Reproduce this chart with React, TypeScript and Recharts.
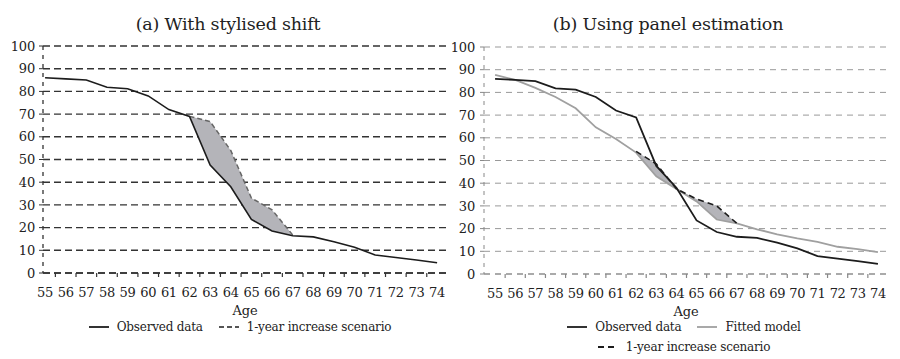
import { ComposedChart, Line, Area, XAxis, YAxis, CartesianGrid } from 'recharts';

// share of people still working, by age
const ages = [55, 56, 57, 58, 59, 60, 61, 62, 63, 64, 65, 66, 67, 68, 69, 70, 71, 72, 73, 74];
const observed = [86, 85.5, 85, 81.8, 81.2, 78, 72, 69, 47.6, 38, 23.6, 18.5, 16.4, 15.9, 13.8, 11.3, 7.9, 6.8, 5.7, 4.5];
const shiftScenario = [null, null, null, null, null, null, null, 69, 66.7, 54, 33, 27.8, 16.8, null, null, null, null, null, null, null];
const fittedModel = [87.7, 85.5, 82, 78, 73, 64.6, 59.5, 53.5, 43, 37.5, 32, 24, 22.3, 19.7, 17.5, 15.7, 14.2, 12, 11, 9.6];
const panelScenario = [null, null, null, null, null, null, null, 54, 48.5, 37.5, 33, 30, 22.3, null, null, null, null, null, null, null];
const yTicks = [0, 10, 20, 30, 40, 50, 60, 70, 80, 90, 100];

const band = (a: (number | null)[], b: (number | null)[], i: number) =>
  a[i] != null && b[i] != null ? [Math.min(a[i]!, b[i]!), Math.max(a[i]!, b[i]!)] : null;

const data = ages.map((age, i) => ({
  age,
  observed: observed[i],
  shiftScenario: shiftScenario[i],
  fittedModel: fittedModel[i],
  panelScenario: panelScenario[i],
  bandA: band(observed, shiftScenario, i),
  bandB: band(fittedModel, panelScenario, i),
}));

// labels on whole ages, small tick marks on the half years between them
const ageTicks = ages.flatMap((a) => (a < 74 ? [a, a + 0.5] : [a]));

const FONT = 'DejaVu Serif';
const INK = '#222';

const AgeTick = ({ x, y, payload, mark }: any) => {
  const v = payload.value;
  if (!Number.isInteger(v)) {
    return <line x1={x} x2={x} y1={y} y2={y + 4} stroke={mark} strokeWidth={1.2} />;
  }
  return (
    <text x={x} y={y + 19} textAnchor="middle" dominantBaseline="central" style={{ fontFamily: FONT, letterSpacing: -0.3 }} fontSize={13} fill={INK}>
      {v}
    </text>
  );
};

const Key = ({ color, dash, width = 1.8, label }: { color: string; dash?: string; width?: number; label: string }) => (
  <span style={{ display: 'inline-flex', alignItems: 'center', margin: '0 8px' }}>
    <svg width={20} height={6} style={{ marginRight: 8 }}>
      <line x1={0} x2={20} y1={3} y2={3} stroke={color} strokeWidth={width} strokeDasharray={dash} />
    </svg>
    <span>{label}</span>
  </span>
);

const title = (left: number, text: string) => (
  <div style={{ position: 'absolute', left, top: 11, width: 450, textAlign: 'center', fontFamily: FONT, fontSize: 17.5, color: INK, lineHeight: '26px' }}>
    {text}
  </div>
);

const tickText = { style: { fontFamily: FONT }, fontSize: 13, fill: INK };

export default function App() {
  return (
    <div style={{ position: 'fixed', left: 0, top: 0, width: 900, height: 359, background: '#fff', fontFamily: FONT, fontSize: 12, letterSpacing: -0.2, color: INK }}>
      {title(3, '(a) With stylised shift')}
      {title(443, '(b) Using panel estimation')}

      <div style={{ position: 'absolute', left: 0, top: 0 }}>
        <ComposedChart width={450} height={320} data={data} margin={{ top: 46, right: 3, bottom: 3, left: 5 }}>
          <CartesianGrid yAxisId="l" vertical={false} stroke="#333" strokeWidth={1.4} strokeDasharray="7 4" />
          <XAxis
            dataKey="age"
            type="number"
            domain={[54.9, 74.48]}
            ticks={ageTicks}
            interval={0}
            tickSize={0}
            tickMargin={0}
            tickLine={false}
            height={44}
            axisLine={{ stroke: '#333', strokeDasharray: '7 4', strokeWidth: 1.3 }}
            tick={<AgeTick mark="#333" />}
            label={{ value: 'Age', position: 'insideBottom', offset: 2, ...tickText }}
          />
          <YAxis
            yAxisId="l"
            domain={[0, 100]}
            ticks={yTicks}
            interval={0}
            width={38}
            tickSize={4}
            tickMargin={4}
            axisLine={{ stroke: '#333', strokeDasharray: '4 5', strokeWidth: 1.3 }}
            tickLine={{ stroke: '#333' }}
            tick={tickText}
          />
          <YAxis
            yAxisId="r"
            orientation="right"
            domain={[0, 100]}
            width={0}
            tick={false}
            tickLine={false}
            axisLine={{ stroke: '#333', strokeDasharray: '4 5', strokeWidth: 1.3 }}
          />
          <Area yAxisId="l" dataKey="bandA" stroke="none" fill="#b4b4b9" fillOpacity={1} isAnimationActive={false} />
          <Line yAxisId="l" dataKey="shiftScenario" stroke="#666" strokeWidth={1.5} strokeDasharray="5 3" dot={false} isAnimationActive={false} />
          <Line yAxisId="l" dataKey="observed" stroke="#1c1c1c" strokeWidth={1.6} dot={false} isAnimationActive={false} />
        </ComposedChart>
      </div>

      <div style={{ position: 'absolute', left: 450, top: 0 }}>
        <ComposedChart width={450} height={320} data={data} margin={{ top: 47, right: 12, bottom: 2, left: 4 }}>
          <CartesianGrid yAxisId="l" vertical={false} stroke="#999" strokeWidth={1} strokeDasharray="6 5" />
          <XAxis
            dataKey="age"
            type="number"
            domain={[54.45, 74.5]}
            ticks={ageTicks}
            interval={0}
            tickSize={0}
            tickMargin={0}
            tickLine={false}
            height={44}
            axisLine={{ stroke: '#888', strokeDasharray: '6 5', strokeWidth: 1 }}
            tick={<AgeTick mark="#888" />}
            label={{ value: 'Age', position: 'insideBottom', offset: 2, ...tickText }}
          />
          <YAxis
            yAxisId="l"
            domain={[0, 100]}
            ticks={yTicks}
            interval={0}
            width={30}
            tickSize={4}
            tickMargin={5}
            axisLine={{ stroke: '#888', strokeDasharray: '4 5', strokeWidth: 1 }}
            tickLine={{ stroke: '#888' }}
            tick={tickText}
          />
          <YAxis
            yAxisId="r"
            orientation="right"
            domain={[0, 100]}
            width={0}
            tick={false}
            tickLine={false}
            axisLine={{ stroke: '#888', strokeDasharray: '4 5', strokeWidth: 1 }}
          />
          <Area yAxisId="l" dataKey="bandB" stroke="none" fill="#b4b4b9" fillOpacity={1} isAnimationActive={false} />
          <Line yAxisId="l" dataKey="fittedModel" stroke="#a0a0a0" strokeWidth={1.8} dot={false} isAnimationActive={false} />
          <Line yAxisId="l" dataKey="observed" stroke="#1c1c1c" strokeWidth={1.8} dot={false} isAnimationActive={false} />
          <Line yAxisId="l" dataKey="panelScenario" stroke="#1c1c1c" strokeWidth={1.6} strokeDasharray="6 4" dot={false} isAnimationActive={false} />
        </ComposedChart>
      </div>

      <div style={{ position: 'absolute', left: 30, top: 317, width: 420, display: 'flex', justifyContent: 'center', lineHeight: '20px' }}>
        <Key color="#1c1c1c" label="Observed data" />
        <Key color="#555" dash="5 3" label="1-year increase scenario" />
      </div>
      <div style={{ position: 'absolute', left: 468, top: 317, width: 432, lineHeight: '20px' }}>
        <div style={{ display: 'flex', justifyContent: 'center' }}>
          <Key color="#1c1c1c" label="Observed data" />
          <Key color="#a0a0a0" label="Fitted model" />
        </div>
        <div style={{ display: 'flex', justifyContent: 'center' }}>
          <Key color="#1c1c1c" dash="6 4" label="1-year increase scenario" />
        </div>
      </div>
    </div>
  );
}
